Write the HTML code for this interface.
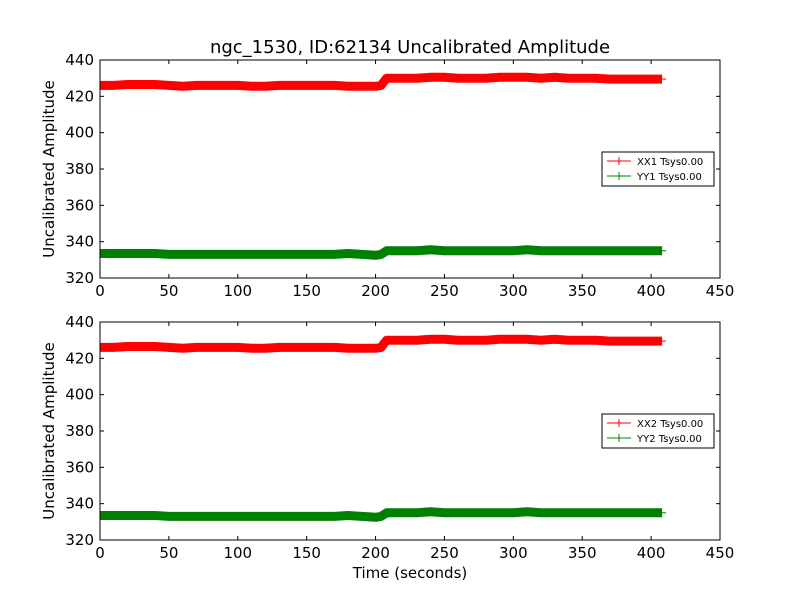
<!DOCTYPE html>
<html><head><meta charset="utf-8"><style>
body{margin:0;background:#fff;font-family:"Liberation Sans","DejaVu Sans",sans-serif}
svg text{font-family:"DejaVu Sans","Liberation Sans",sans-serif}
</style></head><body>
<svg id="c" width="800" height="600" viewBox="0 0 800 600">
<rect width="800" height="600" fill="#fff"/>
<text x="410" y="53" font-size="18" text-anchor="middle">ngc_1530, ID:62134 Uncalibrated Amplitude</text>
<text x="410" y="578" font-size="15" text-anchor="middle">Time (seconds)</text>
</svg>
<script>
const times=[0,10,20,30,40,50,60,70,80,90,100,110,120,130,140,150,160,170,180,190,200,204,208,220,230,240,250,260,270,280,290,300,310,320,330,340,350,360,370,380,390,400,408];
const xx1=[426,426,426.5,426.5,426.5,426,425.5,426,426,426,426,425.5,425.5,426,426,426,426,426,425.5,425.5,425.5,426,430,430,430,430.5,430.5,430,430,430,430.5,430.5,430.5,430,430.5,430,430,430,429.5,429.5,429.5,429.5,429.5];
const yy1=[333.5,333.5,333.5,333.5,333.5,333,333,333,333,333,333,333,333,333,333,333,333,333,333.5,333,332.5,333,335,335,335,335.5,335,335,335,335,335,335,335.5,335,335,335,335,335,335,335,335,335,335];
const xx2=xx1.slice();
const yy2=yy1.slice();
const xTicks=[0,50,100,150,200,250,300,350,400,450];
const yTicks=[320,340,360,380,400,420,440];
const panels=[{top:60,s1:xx1,s2:yy1,l1:'XX1 Tsys0.00',l2:'YY1 Tsys0.00',name:'top'},{top:322,s1:xx2,s2:yy2,l1:'XX2 Tsys0.00',l2:'YY2 Tsys0.00',name:'bottom'}];
const svg=document.getElementById('c');const NS='http://www.w3.org/2000/svg';
function mk(t,a,p){const e=document.createElementNS(NS,t);for(const k in a)e.setAttribute(k,a[k]);(p||svg).appendChild(e);return e;}
const L=100,R=720,H=218;
panels.forEach(p=>{
 const sx=v=>L+(v-0)/450*(R-L);
 const sy=v=>p.top+H-(v-320)/120*H;
 const g=mk('g',{});
 
 
 [[p.s1,'#ff0000','xx'],[p.s2,'#008000','yy']].forEach(([s,c,n])=>{
  const pts=s.map((v,i)=>sx(times[i]).toFixed(1)+','+sy(v).toFixed(1)).join(' ');
  const pl=mk('polyline',{points:pts,fill:'none',stroke:c,'stroke-width':9,'stroke-linejoin':'round'},g);
  
  
  const xe=sx(times[times.length-1]),ye=sy(s[s.length-1]);
  mk('line',{x1:xe-4,x2:xe+4,y1:ye,y2:ye,stroke:c,'stroke-width':1},g);
 });
 const fr=mk('rect',{x:L,y:p.top,width:R-L,height:H,fill:'none',stroke:'#000','stroke-width':1},g);
 
 
 xTicks.forEach(t=>{const x=sx(t);
  mk('line',{x1:x,x2:x,y1:p.top+H,y2:p.top+H-4,stroke:'#000'},g);
  mk('line',{x1:x,x2:x,y1:p.top,y2:p.top+4,stroke:'#000'},g);
  const tx=mk('text',{x:x,y:p.top+H+18,'font-size':15,'text-anchor':'middle'},g);tx.textContent=t;
  
  
 });
 yTicks.forEach(t=>{const y=sy(t);
  mk('line',{x1:L,x2:L+4,y1:y,y2:y,stroke:'#000'},g);
  mk('line',{x1:R,x2:R-4,y1:y,y2:y,stroke:'#000'},g);
  const tx=mk('text',{x:L-6,y:y+5,'font-size':15,'text-anchor':'end'},g);tx.textContent=t;
  
  
 });
 const yt=mk('text',{x:0,y:0,'font-size':15,'text-anchor':'middle',transform:`translate(54,${p.top+H/2}) rotate(-90)`},g);
 yt.textContent='Uncalibrated Amplitude';
 
 
 const lg=mk('g',{},g);
 
 
 const ly=p.top+92;
 mk('rect',{x:602,y:ly,width:112,height:34,fill:'#fff',stroke:'#000'},lg);
 [[p.l1,'#ff0000'],[p.l2,'#008000']].forEach(([t,c],i)=>{const y=ly+9+i*15;
  mk('line',{x1:607,x2:631,y1:y,y2:y,stroke:c},lg);
  mk('line',{x1:619,x2:619,y1:y-4,y2:y+4,stroke:c},lg);
  const tx=mk('text',{x:637,y:y+4,'font-size':10},lg);tx.textContent=t;
  
  
 });
});
</script>
</body></html>
